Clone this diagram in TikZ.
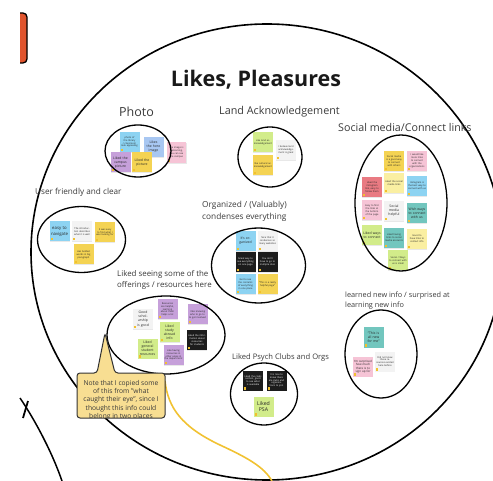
\documentclass[tikz,border=0pt]{standalone}
\usepackage{fontspec}
\setmainfont{Open Sans}
\usetikzlibrary{shapes.geometric,shadows}
\definecolor{skyN}{HTML}{8DD3F2}
\definecolor{periN}{HTML}{A8C7F2}
\definecolor{purpN}{HTML}{C6A0DA}
\definecolor{yelN}{HTML}{F4D353}
\definecolor{ltyN}{HTML}{FAEFA2}
\definecolor{pinkN}{HTML}{F6C4D6}
\definecolor{whtN}{HTML}{F3F3F3}
\definecolor{limeN}{HTML}{D2EC8A}
\definecolor{tealN}{HTML}{72C6BE}
\definecolor{redN}{HTML}{E97A82}
\definecolor{blkN}{HTML}{1C1C1C}
\definecolor{markN}{HTML}{F2C12E}
\definecolor{calloutN}{HTML}{F8DE92}
\definecolor{curveN}{HTML}{F1C232}
\definecolor{tabN}{HTML}{E0542D}
\definecolor{labelN}{HTML}{3A3A3A}
\newcommand\nta{\fontsize{2.4}{2.9}\selectfont}
\newcommand\ntb{\fontsize{3.4}{4.1}\selectfont}
\newcommand\ntc{\fontsize{4.3}{5.2}\selectfont}
\tikzset{
  note/.style={rectangle, fill=#1, minimum width=20pt, minimum height=20pt,
    inner sep=0.8pt, text width=18pt, align=center, font=\nta, text=black!85,
    drop shadow={opacity=0.18, shadow xshift=0.4pt, shadow yshift=-0.9pt},
    path picture={\fill[markN] ([shift={(1pt,1pt)}]path picture bounding box.south west) rectangle ++(2.2pt,2.2pt);}},
  dnote/.style={note=blkN, text=white},
  clus/.style={draw=black, ellipse, line width=1.3pt, inner sep=0},
  lab/.style={inner sep=0, anchor=west, text=labelN, align=left},
}
\begin{document}
\begin{tikzpicture}[x=1pt,y=-1pt]
\useasboundingbox (0,0) rectangle (493,481);
\clip (0,0) rectangle (493,481);
% red tab
\begin{scope}
  \clip (20,0) rectangle (40,80);
  \draw[fill=tabN, line width=1.3pt, rounded corners=4pt] (5,13) rectangle (27,63);
\end{scope}
% big circle and neighbouring arc
\node[draw, ellipse, line width=1.6pt, minimum width=472pt, minimum height=456pt, inner sep=0] (bigc) at (267,252) {};
\coordinate (a1) at (20,398);
\coordinate (a2) at (62,481);
\draw[line width=1.5pt] (a1) .. controls (35,420) and (52,452) .. (a2);
\coordinate (x1) at (23,418);
\coordinate (x2) at (28,401);
\draw[line width=1.8pt] (x1) -- (x2);
% title
\node[font=\fontsize{21.5}{26}\selectfont\bfseries, text=black!90, inner sep=0] (title) at (256,80) {Likes, Pleasures};
% labels
\node[lab, anchor=center, font=\fontsize{12.5}{15}\selectfont] (lphoto) at (136.5,112) {Photo};
\node[lab, font=\fontsize{10.8}{13}\selectfont] (lland) at (219,112) {Land Acknowledgement};
\node[lab, font=\fontsize{10.7}{12.5}\selectfont] (lsocial) at (338,127) {Social media/Connect links};
\node[lab, font=\fontsize{8.2}{10}\selectfont] (luser) at (35,192) {User friendly and clear};
\node[lab, font=\fontsize{8.3}{12.2}\selectfont] (lorg) at (202,211) {Organized / (Valuably)\\condenses everything};
\node[lab, font=\fontsize{7.9}{11}\selectfont] (loff) at (117,279.5) {Liked seeing some of the\\offerings / resources here};
\node[lab, font=\fontsize{7.6}{10}\selectfont] (lpsych) at (232,358) {Liked Psych Clubs and Orgs};
\node[lab, font=\fontsize{7.3}{10}\selectfont] (llearn) at (345,301) {learned new info / surprised at\\learning new info};
% Photo notes
\node[note=skyN] (ph1) at (129.5,142) {photo of the library / classroom look appealing};
\node[note=periN, font=\ntb] (ph2) at (153.5,147) {Likes the hero image};
\node[note=purpN, font=\ntb] (ph3) at (120.5,162.5) {Liked the campus picture};
\node[note=yelN, font=\ntb] (ph4) at (142,162.5) {Liked the picture};
\node[note=pinkN, minimum width=19pt, minimum height=21pt] (ph5) at (176.5,152.5) {the image is welcoming, you can see the campus};
\node[clus, minimum width=66pt, minimum height=52pt] (cphoto) at (138,151) {};
% Land acknowledgement notes
\node[note=limeN] (la1) at (263,142.5) {Like land acknowledgement};
\node[note=whtN] (la2) at (286,150) {I believe land acknowledgement is great};
\node[note=yelN] (la3) at (263,165) {like cultural acknowledgement};
\node[clus, minimum width=64pt, minimum height=60pt] (cland) at (270,157) {};
% Social media notes
\node[note=yelN] (sm1) at (394,161) {Social media is a good way to connect with others};
\node[note=pinkN] (sm2) at (417,161) {I would like more links to connect with the organizations};
\node[note=redN] (sm3) at (372,187) {Liked the instagram link, easy to follow them};
\node[note=ltyN] (sm4) at (394,183) {Liked the social media links};
\node[note=skyN] (sm5) at (417,186) {Instagram is the best way to connect with us};
\node[note=pinkN] (sm6) at (372,210.5) {Easy to find the links at the bottom of the page};
\node[note=whtN, font=\ntb] (sm7) at (394,211) {Social media helpful};
\node[note=tealN, font=\ntb] (sm8) at (417,213) {Wish ways to connect with us};
\node[note=limeN, font=\ntb] (sm9) at (372,235.5) {Liked ways to connect};
\node[note=tealN] (sm10) at (394,238) {Liked having links to social media accounts};
\node[note=ltyN] (sm11) at (417,239) {Good to have links to contact info};
\node[note=limeN] (sm12) at (398,260.5) {Social / Ways to connect with us is small};
\node[clus, minimum width=92pt, minimum height=136pt] (csocial) at (401,203) {};
% User friendly notes
\node[note=skyN, font=\ntc] (uf1) at (59.5,231.5) {easy to navigate};
\node[note=whtN] (uf2) at (82,231.5) {The introduction describes what it is well};
\node[note=yelN] (uf3) at (105,232.5) {It was easy to find what I was looking for};
\node[note=yelN] (uf4) at (83.5,254.5) {Has bolded words in big paragraph};
\node[clus, minimum width=88pt, minimum height=66pt] (cuser) at (81.5,239.5) {};
% Organized notes
\node[note=skyN, font=\ntb] (or1) at (245.5,241) {It's organized};
\node[note=whtN] (or2) at (267.5,241) {Nice that it condenses so many websites};
\node[dnote] (or3) at (245.5,262) {Great way to see everything on one page};
\node[dnote] (or4) at (267.5,262) {You don't have to go to multiple sites};
\node[note=skyN] (or5) at (245.5,284.5) {Get to see the contents of everything in one place};
\node[note=yelN] (or6) at (267.5,284.5) {"This is a really helpful page"};
\node[clus, minimum width=94pt, minimum height=75pt] (corg) at (258.5,265.5) {};
% Offerings notes
\node[note=whtN, font=\ntb] (of1) at (143,319) {Good scholarship is good};
\node[note=purpN] (of2) at (167.5,309.5) {Resources are helpful, learning about them helps a lot};
\node[note=purpN] (of3) at (197.5,314.5) {I like knowing who to go to to get involved};
\node[note=limeN, font=\ntb] (of4) at (169.5,332) {Liked study abroad info};
\node[dnote] (of5) at (197,340) {Liked the information about resources for students};
\node[note=limeN, font=\ntb] (of6) at (147.5,348.5) {Liked general student resources};
\node[note=purpN] (of7) at (173.5,355) {Like having resources in other areas in the department};
\node[clus, minimum width=118pt, minimum height=78pt] (coff) at (166,335) {};
% Psych clubs notes
\node[dnote] (ps1) at (253,380.5) {Liked the clubs section, good to see what is available};
\node[dnote] (ps2) at (276.5,380.5) {It is nice to know there are clubs and organizations to join};
\node[note=limeN, font=\fontsize{5.2}{6.4}\selectfont] (ps3) at (263.5,406.5) {Liked PSA};
\node[clus, minimum width=67pt, minimum height=62pt] (cpsych) at (264,394) {};
% Learned notes
\node[note=tealN, font=\ntb] (ln1) at (373.5,337.5) {"This is all new for me"};
\node[note=pinkN, font=\fontsize{2.9}{3.5}\selectfont] (ln2) at (363,366.5) {I'm surprised how much there is to sign up for};
\node[note=whtN] (ln3) at (385,361.5) {Did not know these resources existed here before};
\node[clus, minimum width=72pt, minimum height=88pt] (clearn) at (381,354) {};
% yellow connector curve
\coordinate (cs) at (165,381);
\coordinate (ce) at (272,481);
\draw[curveN, line width=1.6pt] (cs) .. controls (168,408) and (182,427) .. (220,445) .. controls (248,458) and (264,467) .. (ce);
% callout
\path[draw=black!80, fill=calloutN, line width=1pt, rounded corners=3pt]
  (77,373) -- (97,373) -- (105,333) -- (115,373) -- (165,373) -- (165,418) -- (77,418) -- cycle;
\begin{scope}
  \clip (78,374) rectangle (164,417);
  \node[align=center, inner sep=0, text=labelN, font=\fontsize{6.7}{8.3}\selectfont] (callout) at (121,400) {Note that I copied some\\of this from "what\\caught their eye", since I\\thought this info could\\belong in two places};
\end{scope}
\end{tikzpicture}
\end{document}
